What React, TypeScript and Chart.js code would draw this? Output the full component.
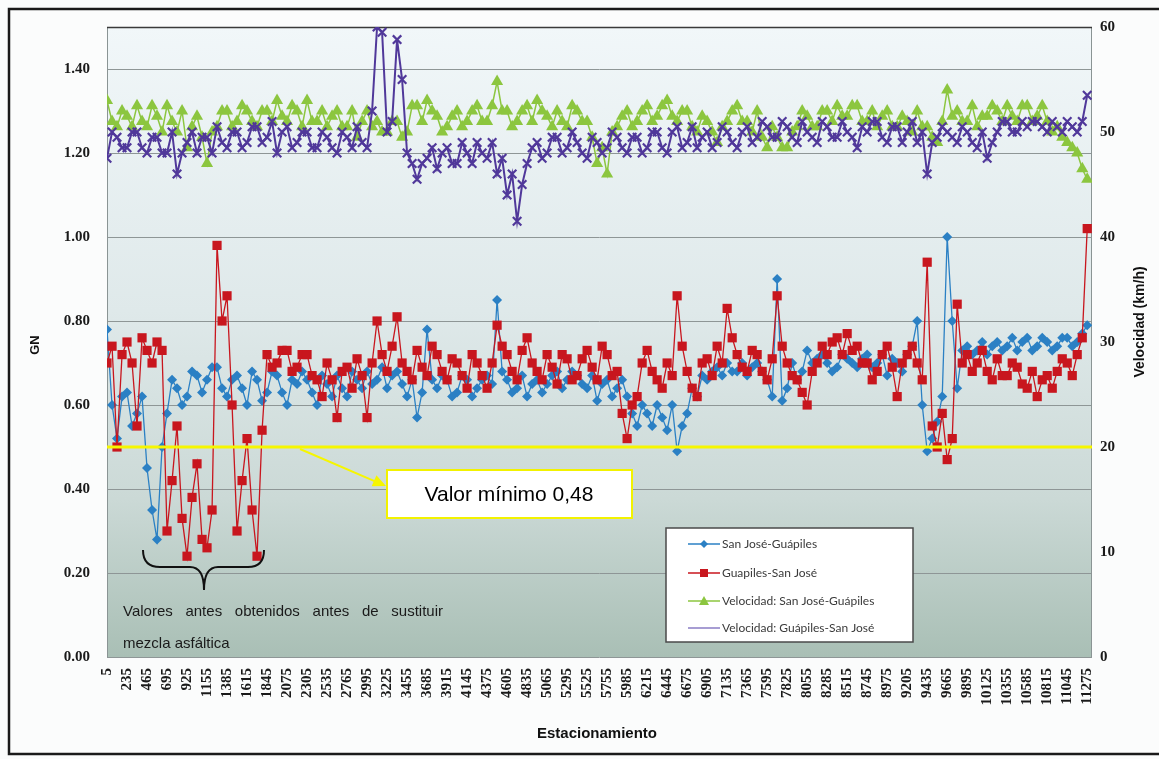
import React, { useEffect, useRef } from "react";
import { Chart, registerables } from "chart.js";

Chart.register(...registerables);

// ---------------- data ----------------
const stations = [
  5, 63, 120, 178, 235, 293, 350, 408, 465, 523,
  580, 638, 695, 753, 810, 868, 925, 983, 1040, 1098,
  1155, 1213, 1270, 1328, 1385, 1443, 1500, 1558, 1615, 1673,
  1730, 1788, 1845, 1903, 1960, 2018, 2075, 2133, 2190, 2248,
  2305, 2363, 2420, 2478, 2535, 2593, 2650, 2708, 2765, 2823,
  2880, 2938, 2995, 3053, 3110, 3168, 3225, 3283, 3340, 3398,
  3455, 3513, 3570, 3628, 3685, 3743, 3800, 3858, 3915, 3973,
  4030, 4088, 4145, 4203, 4260, 4318, 4375, 4433, 4490, 4548,
  4605, 4663, 4720, 4778, 4835, 4893, 4950, 5008, 5065, 5123,
  5180, 5238, 5295, 5353, 5410, 5468, 5525, 5583, 5640, 5698,
  5755, 5813, 5870, 5928, 5985, 6043, 6100, 6158, 6215, 6273,
  6330, 6388, 6445, 6503, 6560, 6618, 6675, 6733, 6790, 6848,
  6905, 6963, 7020, 7078, 7135, 7193, 7250, 7308, 7365, 7423,
  7480, 7538, 7595, 7653, 7710, 7768, 7825, 7883, 7940, 7998,
  8055, 8113, 8170, 8228, 8285, 8343, 8400, 8458, 8515, 8573,
  8630, 8688, 8745, 8803, 8860, 8918, 8975, 9033, 9090, 9148,
  9205, 9263, 9320, 9378, 9435, 9493, 9550, 9608, 9665, 9723,
  9780, 9838, 9895, 9953, 10010, 10068, 10125, 10183, 10240, 10298,
  10355, 10413, 10470, 10528, 10585, 10643, 10700, 10758, 10815, 10873,
  10930, 10988, 11045, 11103, 11160, 11218, 11275,
];

const xTickLabels = [
  5, 235, 465, 695, 925, 1155, 1385, 1615, 1845, 2075, 2305, 2535, 2765, 2995,
  3225, 3455, 3685, 3915, 4145, 4375, 4605, 4835, 5065, 5295, 5525, 5755, 5985,
  6215, 6445, 6675, 6905, 7135, 7365, 7595, 7825, 8055, 8285, 8515, 8745, 8975,
  9205, 9435, 9665, 9895, 10125, 10355, 10585, 10815, 11045, 11275,
];

const gnTicks = [0, 0.2, 0.4, 0.6, 0.8, 1.0, 1.2, 1.4];
const speedTicks = [0, 10, 20, 30, 40, 50, 60];

const gnSanJoseGuapiles = [
  0.78, 0.60, 0.52, 0.62, 0.63, 0.55, 0.58, 0.62, 0.45, 0.35,
  0.28, 0.50, 0.58, 0.66, 0.64, 0.60, 0.62, 0.68, 0.67, 0.63,
  0.66, 0.69, 0.69, 0.64, 0.62, 0.66, 0.67, 0.64, 0.60, 0.68,
  0.66, 0.61, 0.63, 0.68, 0.67, 0.63, 0.60, 0.66, 0.65, 0.68,
  0.66, 0.63, 0.60, 0.67, 0.65, 0.62, 0.67, 0.64, 0.62, 0.68,
  0.66, 0.64, 0.68, 0.65, 0.66, 0.69, 0.64, 0.67, 0.68, 0.65,
  0.62, 0.66, 0.57, 0.63, 0.78, 0.66, 0.64, 0.67, 0.66, 0.62,
  0.63, 0.67, 0.66, 0.62, 0.64, 0.66, 0.67, 0.65, 0.85, 0.68,
  0.66, 0.63, 0.64, 0.67, 0.62, 0.65, 0.66, 0.63, 0.65, 0.67,
  0.68, 0.64, 0.66, 0.68, 0.67, 0.65, 0.64, 0.67, 0.61, 0.65,
  0.66, 0.62, 0.64, 0.66, 0.62, 0.58, 0.55, 0.60, 0.58, 0.55,
  0.60, 0.57, 0.54, 0.60, 0.49, 0.55, 0.58, 0.64, 0.62, 0.67,
  0.66, 0.68, 0.69, 0.67, 0.70, 0.68, 0.68, 0.70, 0.67, 0.69,
  0.70, 0.68, 0.66, 0.62, 0.90, 0.61, 0.64, 0.70, 0.66, 0.68,
  0.73, 0.70, 0.71, 0.72, 0.70, 0.68, 0.69, 0.72, 0.71, 0.70,
  0.69, 0.71, 0.72, 0.69, 0.70, 0.72, 0.67, 0.71, 0.70, 0.68,
  0.72, 0.74, 0.80, 0.60, 0.49, 0.52, 0.56, 0.62, 1.00, 0.80,
  0.64, 0.73, 0.74, 0.72, 0.73, 0.75, 0.72, 0.74, 0.75, 0.73,
  0.74, 0.76, 0.73, 0.75, 0.76, 0.73, 0.74, 0.76, 0.75, 0.73,
  0.74, 0.76, 0.76, 0.74, 0.75, 0.77, 0.79,
];

const gnGuapilesSanJose = [
  0.70, 0.74, 0.50, 0.72, 0.75, 0.70, 0.55, 0.76, 0.73, 0.70,
  0.75, 0.73, 0.30, 0.42, 0.55, 0.33, 0.24, 0.38, 0.46, 0.28,
  0.26, 0.35, 0.98, 0.80, 0.86, 0.60, 0.30, 0.42, 0.52, 0.35,
  0.24, 0.54, 0.72, 0.69, 0.70, 0.73, 0.73, 0.68, 0.69, 0.72,
  0.72, 0.67, 0.66, 0.62, 0.70, 0.66, 0.57, 0.68, 0.69, 0.64,
  0.71, 0.67, 0.57, 0.70, 0.80, 0.72, 0.68, 0.74, 0.81, 0.70,
  0.68, 0.66, 0.73, 0.69, 0.67, 0.74, 0.72, 0.68, 0.66, 0.71,
  0.70, 0.67, 0.64, 0.72, 0.70, 0.67, 0.64, 0.70, 0.79, 0.74,
  0.72, 0.68, 0.66, 0.73, 0.76, 0.70, 0.68, 0.66, 0.72, 0.69,
  0.65, 0.72, 0.71, 0.66, 0.67, 0.71, 0.73, 0.69, 0.66, 0.74,
  0.72, 0.67, 0.68, 0.58, 0.52, 0.60, 0.62, 0.70, 0.73, 0.68,
  0.66, 0.64, 0.70, 0.67, 0.86, 0.74, 0.68, 0.64, 0.62, 0.70,
  0.71, 0.67, 0.74, 0.70, 0.83, 0.76, 0.72, 0.69, 0.68, 0.73,
  0.72, 0.68, 0.66, 0.71, 0.86, 0.74, 0.70, 0.67, 0.66, 0.63,
  0.60, 0.68, 0.70, 0.74, 0.72, 0.75, 0.76, 0.72, 0.77, 0.73,
  0.74, 0.70, 0.70, 0.66, 0.68, 0.72, 0.74, 0.69, 0.62, 0.70,
  0.72, 0.74, 0.70, 0.66, 0.94, 0.55, 0.50, 0.58, 0.47, 0.52,
  0.84, 0.70, 0.72, 0.68, 0.70, 0.73, 0.68, 0.66, 0.71, 0.67,
  0.67, 0.70, 0.69, 0.65, 0.64, 0.68, 0.62, 0.66, 0.67, 0.64,
  0.68, 0.71, 0.70, 0.67, 0.72, 0.76, 1.02,
];

const speedSanJoseGuapiles = [
  53.0, 51.0, 50.5, 52.0, 51.5, 50.5, 52.5, 51.0, 50.5, 52.5,
  51.5, 50.0, 52.5, 51.0, 50.0, 52.0, 48.5, 50.5, 51.5, 49.5,
  47.0, 50.0, 50.5, 52.0, 52.0, 50.5, 51.0, 52.5, 52.0, 51.0,
  50.5, 52.0, 52.0, 51.0, 53.0, 51.5, 51.0, 52.5, 52.0, 50.5,
  53.0, 51.0, 51.0, 52.0, 50.5, 51.5, 52.0, 50.5, 50.5, 52.0,
  49.5, 51.0, 52.0, 50.5, 51.0, 50.0, 50.0, 51.0, 51.0, 49.5,
  50.0, 52.5, 52.5, 51.0, 53.0, 52.0, 51.5, 50.0, 50.5, 51.5,
  52.0, 50.5, 51.0, 52.0, 52.5, 51.0, 51.0, 52.5, 54.8, 52.0,
  52.0, 50.5, 51.0, 52.0, 52.5, 51.0, 53.0, 52.0, 51.5, 50.5,
  52.0, 51.0, 50.5, 52.5, 52.0, 51.0, 51.0, 49.5, 47.0, 48.5,
  46.0, 50.0, 50.5, 51.5, 52.0, 50.5, 51.0, 52.0, 52.5, 51.0,
  51.5, 52.5, 53.0, 51.5, 51.0, 52.0, 52.0, 50.5, 50.0, 51.5,
  51.0, 50.0, 49.0, 50.5, 51.0, 52.0, 52.5, 51.0, 51.0, 50.0,
  52.0, 49.5, 48.5, 50.5, 49.5, 48.5, 48.5, 50.0, 50.5, 52.0,
  51.5, 50.5, 50.5, 52.0, 52.0, 51.0, 52.5, 51.5, 51.5, 52.5,
  52.5, 51.0, 51.0, 52.0, 50.5, 51.5, 52.0, 50.5, 50.5, 51.5,
  51.0, 50.0, 52.0, 50.5, 50.5, 49.5, 49.0, 51.0, 54.0, 51.5,
  52.0, 51.0, 51.0, 52.5, 50.5, 51.5, 51.5, 52.5, 52.0, 51.0,
  52.5, 51.5, 51.0, 52.5, 52.5, 51.0, 51.5, 52.5, 51.0, 50.0,
  50.5, 49.5, 49.0, 48.5, 48.0, 46.5, 45.5,
];

const speedGuapilesSanJose = [
  47.5, 50.0, 49.5, 48.5, 48.5, 50.0, 50.0, 48.5, 48.0, 49.5,
  49.5, 48.0, 48.0, 50.0, 46.0, 48.0, 49.0, 50.0, 48.0, 49.5,
  49.5, 48.0, 50.5, 49.0, 48.5, 50.0, 50.0, 48.5, 49.0, 50.5,
  50.5, 49.0, 49.5, 51.0, 48.0, 50.0, 50.5, 48.5, 49.0, 50.0,
  50.0, 48.5, 48.5, 50.0, 49.5, 48.5, 48.0, 50.0, 49.5, 48.5,
  50.5, 49.0, 48.5, 52.0, 60.0, 59.5, 50.0, 51.0, 58.8, 55.0,
  48.0, 47.0, 45.5, 47.0, 47.5, 48.5, 46.5, 48.0, 48.5, 47.0,
  47.0, 49.0, 48.0, 47.0, 49.0, 48.0, 47.5, 49.0, 46.0, 47.5,
  44.0, 46.0, 41.5, 45.0, 47.0, 48.5, 49.0, 47.5, 48.0, 49.5,
  49.5, 48.0, 48.5, 50.0, 49.0, 48.0, 47.5, 49.5, 49.0, 48.0,
  48.5, 50.0, 49.5, 48.5, 48.0, 49.5, 49.5, 48.0, 48.5, 50.0,
  50.0, 48.5, 48.0, 50.0, 50.5, 48.5, 49.0, 50.5, 48.5, 49.5,
  50.0, 48.5, 49.0, 50.5, 50.0, 49.0, 48.5, 50.0, 50.5, 49.0,
  49.5, 51.0, 50.5, 49.5, 49.5, 51.0, 50.5, 49.5, 49.0, 51.0,
  50.0, 49.5, 49.0, 51.0, 50.5, 49.5, 49.5, 51.0, 50.0, 49.5,
  48.5, 50.5, 50.0, 51.0, 51.0, 49.5, 49.0, 50.5, 50.5, 49.0,
  50.0, 51.0, 49.0, 50.0, 46.0, 49.0, 49.5, 50.5, 50.0, 49.5,
  49.0, 50.5, 50.0, 49.0, 48.5, 50.0, 47.5, 49.0, 50.0, 51.0,
  51.0, 50.0, 50.0, 51.0, 50.5, 51.0, 51.0, 50.5, 50.0, 51.0,
  50.5, 50.0, 51.0, 50.5, 50.0, 51.0, 53.5,
];

const minimumLineGN = 0.5;
const annotationText = "Valor mínimo 0,48";
const braceTextLines = ["Valores antes obtenidos antes de sustituir", "mezcla asfáltica"];

// ---------------- styles ----------------
const W = 1159;
const H = 759;
const BLUE = "#2b80c4";
const RED = "#c8161e";
const GREEN = "#8cc63f";
const PURPLE = "#50389a";
const LEGEND_PURPLE = "#8a7cc4";
const SERIF = "'Liberation Serif', 'Times New Roman', serif";
const SANS = "'Liberation Sans', Arial, sans-serif";

const tickFont = { family: SERIF, size: 15, weight: "bold" as const };

const toPoints = (vals: number[]) => vals.map((v, i) => ({ x: stations[i], y: v }));

const decorPlugin = {
  id: "decor",
  beforeDraw(chart: any) {
    const { ctx, chartArea: a } = chart;
    ctx.save();
    ctx.fillStyle = "#fbfcfc";
    ctx.fillRect(0, 0, chart.width, chart.height);
    const g = ctx.createLinearGradient(0, a.top, 0, a.bottom);
    g.addColorStop(0, "#f1f7f9");
    g.addColorStop(0.45, "#dfe9ea");
    g.addColorStop(0.75, "#cbd9d6");
    g.addColorStop(1, "#a9bfb5");
    ctx.fillStyle = g;
    ctx.fillRect(a.left, a.top, a.right - a.left, a.bottom - a.top);
    ctx.restore();
  },
  beforeDatasetsDraw(chart: any) {
    const { ctx, chartArea: a } = chart;
    ctx.save();
    ctx.strokeStyle = "#8a9494";
    ctx.lineWidth = 1;
    ctx.beginPath();
    ctx.moveTo(a.left + 0.5, a.top);
    ctx.lineTo(a.left + 0.5, a.bottom);
    ctx.moveTo(a.right - 0.5, a.top);
    ctx.lineTo(a.right - 0.5, a.bottom);
    ctx.stroke();
    ctx.strokeStyle = "#3a3a3a";
    ctx.lineWidth = 1.5;
    ctx.beginPath();
    ctx.moveTo(a.left, a.top + 0.5);
    ctx.lineTo(a.right, a.top + 0.5);
    ctx.stroke();
    ctx.restore();
  },
  afterDraw(chart: any) {
    const { ctx, chartArea: a, scales } = chart;
    ctx.save();

    // yellow threshold line
    const yl = scales.y.getPixelForValue(minimumLineGN);
    ctx.strokeStyle = "#f6f600";
    ctx.lineWidth = 3;
    ctx.beginPath();
    ctx.moveTo(a.left, yl);
    ctx.lineTo(a.right, yl);
    ctx.stroke();

    // arrow to box
    const x0 = 300, y0 = yl + 2, x1 = 386, y1 = 486;
    const ang = Math.atan2(y1 - y0, x1 - x0);
    ctx.lineWidth = 2;
    ctx.beginPath();
    ctx.moveTo(x0, y0);
    ctx.lineTo(x1 - 10 * Math.cos(ang), y1 - 10 * Math.sin(ang));
    ctx.stroke();
    ctx.fillStyle = "#f6f600";
    ctx.beginPath();
    ctx.moveTo(x1, y1);
    ctx.lineTo(x1 - 13 * Math.cos(ang) + 6 * Math.sin(ang), y1 - 13 * Math.sin(ang) - 6 * Math.cos(ang));
    ctx.lineTo(x1 - 13 * Math.cos(ang) - 6 * Math.sin(ang), y1 - 13 * Math.sin(ang) + 6 * Math.cos(ang));
    ctx.closePath();
    ctx.fill();

    // annotation box
    ctx.fillStyle = "#ffffff";
    ctx.fillRect(387, 470, 245, 48);
    ctx.strokeStyle = "#f2f200";
    ctx.lineWidth = 2;
    ctx.strokeRect(387, 470, 245, 48);
    ctx.fillStyle = "#000000";
    ctx.font = `21px ${SANS}`;
    ctx.textAlign = "center";
    ctx.textBaseline = "middle";
    ctx.fillText(annotationText, 509, 495);

    // brace
    ctx.strokeStyle = "#111111";
    ctx.lineWidth = 2;
    ctx.beginPath();
    ctx.moveTo(143, 550);
    ctx.quadraticCurveTo(143, 567, 160, 567);
    ctx.lineTo(190, 567);
    ctx.quadraticCurveTo(204, 567, 204, 590);
    ctx.quadraticCurveTo(204, 567, 218, 567);
    ctx.lineTo(248, 567);
    ctx.quadraticCurveTo(264, 567, 264, 550);
    ctx.stroke();

    // brace text (justified first line)
    ctx.fillStyle = "#1a1a1a";
    ctx.font = `15px ${SANS}`;
    ctx.textAlign = "left";
    const words = braceTextLines[0].split(" ");
    const natural = words.reduce((s, w) => s + ctx.measureText(w).width, 0);
    const gap = (320 - natural) / (words.length - 1);
    let cx = 123;
    words.forEach((w) => {
      ctx.fillText(w, cx, 612);
      cx += ctx.measureText(w).width + gap;
    });
    ctx.fillText(braceTextLines[1], 123, 644);

    // legend
    const lx = 666, ly = 528, lw = 247, lh = 114;
    ctx.fillStyle = "#ffffff";
    ctx.fillRect(lx, ly, lw, lh);
    ctx.strokeStyle = "#4a4a4a";
    ctx.lineWidth = 1.5;
    ctx.strokeRect(lx, ly, lw, lh);
    const ds = chart.data.datasets;
    const entries = [
      { label: ds[1].label, color: BLUE, mark: "diamond" },
      { label: ds[0].label, color: RED, mark: "square" },
      { label: ds[3].label, color: GREEN, mark: "triangle" },
      { label: ds[2].label, color: LEGEND_PURPLE, mark: "none" },
    ];
    const rows = [544, 573, 601, 628];
    ctx.font = `12px Lato, 'Open Sans', sans-serif`;
    entries.forEach((e, i) => {
      const y = rows[i];
      ctx.strokeStyle = e.color;
      ctx.lineWidth = 1.5;
      ctx.beginPath();
      ctx.moveTo(688, y);
      ctx.lineTo(720, y);
      ctx.stroke();
      ctx.fillStyle = e.color;
      if (e.mark === "diamond") {
        ctx.beginPath();
        ctx.moveTo(704, y - 4);
        ctx.lineTo(708, y);
        ctx.lineTo(704, y + 4);
        ctx.lineTo(700, y);
        ctx.closePath();
        ctx.fill();
      } else if (e.mark === "square") {
        ctx.fillRect(700, y - 4, 8, 8);
      } else if (e.mark === "triangle") {
        ctx.beginPath();
        ctx.moveTo(704, y - 5);
        ctx.lineTo(709, y + 4);
        ctx.lineTo(699, y + 4);
        ctx.closePath();
        ctx.fill();
      }
      ctx.fillStyle = "#3a3a3a";
      ctx.textAlign = "left";
      ctx.textBaseline = "middle";
      ctx.fillText(e.label, 722, y);
    });

    // axis titles
    ctx.fillStyle = "#111111";
    ctx.font = `bold 13px ${SANS}`;
    ctx.textAlign = "center";
    ctx.textBaseline = "middle";
    ctx.save();
    ctx.translate(35, 345);
    ctx.rotate(-Math.PI / 2);
    ctx.fillText("GN", 0, 0);
    ctx.restore();
    ctx.save();
    ctx.font = `bold 14px ${SANS}`;
    ctx.translate(1140, 322);
    ctx.rotate(-Math.PI / 2);
    ctx.fillText("Velocidad (km/h)", 0, 0);
    ctx.restore();
    ctx.font = `bold 15px ${SANS}`;
    ctx.fillText("Estacionamiento", 597, 734);

    // outer frame
    ctx.strokeStyle = "#1a1a1a";
    ctx.lineWidth = 2.5;
    ctx.strokeRect(9, 9, 1170, 745);

    ctx.restore();
  },
};

export default function App() {
  const ref = useRef<HTMLCanvasElement>(null);

  useEffect(() => {
    const canvas = ref.current;
    if (!canvas) return;
    const chart = new Chart(canvas, {
      type: "line",
      data: {
        datasets: [
          {
            label: "Guapiles-San José",
            data: toPoints(gnGuapilesSanJose),
            yAxisID: "y",
            borderColor: RED,
            backgroundColor: RED,
            borderWidth: 1.3,
            pointStyle: "rect",
            pointRadius: 6.5,
            pointBorderWidth: 0,
            pointBackgroundColor: RED,
            tension: 0,
            order: 0,
          },
          {
            label: "San José-Guápiles",
            data: toPoints(gnSanJoseGuapiles),
            yAxisID: "y",
            borderColor: BLUE,
            backgroundColor: BLUE,
            borderWidth: 1.3,
            pointStyle: "rectRot",
            pointRadius: 5,
            pointBorderWidth: 0,
            pointBackgroundColor: BLUE,
            tension: 0,
            order: 1,
          },
          {
            label: "Velocidad: Guápiles-San José",
            data: toPoints(speedGuapilesSanJose),
            yAxisID: "y1",
            borderColor: PURPLE,
            backgroundColor: PURPLE,
            borderWidth: 2,
            pointStyle: "crossRot",
            pointRadius: 6,
            pointBorderWidth: 2.2,
            pointBorderColor: PURPLE,
            tension: 0,
            order: 2,
          },
          {
            label: "Velocidad: San José-Guápiles",
            data: toPoints(speedSanJoseGuapiles),
            yAxisID: "y1",
            borderColor: GREEN,
            backgroundColor: GREEN,
            borderWidth: 1.5,
            pointStyle: "triangle",
            pointRadius: 7,
            pointBorderWidth: 0,
            pointBackgroundColor: GREEN,
            tension: 0,
            order: 3,
          },
        ],
      },
      options: {
        animation: false,
        responsive: false,
        maintainAspectRatio: false,
        layout: { padding: { top: 27, left: 0, right: 0, bottom: 0 } },
        plugins: { legend: { display: false }, tooltip: { enabled: false } },
        scales: {
          x: {
            type: "linear",
            min: 5,
            max: 11330,
            afterBuildTicks: (s: any) => {
              s.ticks = xTickLabels.map((v) => ({ value: v }));
            },
            afterFit: (s: any) => {
              s.height = 102;
            },
            grid: { display: false, drawTicks: false },
            border: { display: false },
            ticks: {
              autoSkip: false,
              minRotation: 90,
              maxRotation: 90,
              padding: 11,
              font: tickFont,
              color: "#1a1a1a",
              callback: (v: any) => String(v),
            },
          },
          y: {
            type: "linear",
            position: "left",
            min: 0,
            max: 1.5,
            afterBuildTicks: (s: any) => {
              s.ticks = gnTicks.map((v) => ({ value: v }));
            },
            afterFit: (s: any) => {
              s.width = 107;
            },
            grid: { color: "#8e9696", lineWidth: 1, drawTicks: false },
            border: { display: false },
            ticks: {
              padding: 17,
              font: tickFont,
              color: "#1a1a1a",
              callback: (v: any) => Number(v).toFixed(2),
            },
          },
          y1: {
            type: "linear",
            position: "right",
            min: 0,
            max: 60,
            afterBuildTicks: (s: any) => {
              s.ticks = speedTicks.map((v) => ({ value: v }));
            },
            afterFit: (s: any) => {
              s.width = 67;
            },
            grid: { display: false, drawTicks: false },
            border: { display: false },
            ticks: {
              padding: 8,
              font: tickFont,
              color: "#1a1a1a",
            },
          },
        },
      },
      plugins: [decorPlugin],
    } as any);
    return () => chart.destroy();
  }, []);

  return (
    <div style={{ position: "fixed", left: 0, top: 0, width: W, height: H, background: "#fff" }}>
      <canvas ref={ref} width={W} height={H} style={{ display: "block", width: W, height: H }} />
    </div>
  );
}
